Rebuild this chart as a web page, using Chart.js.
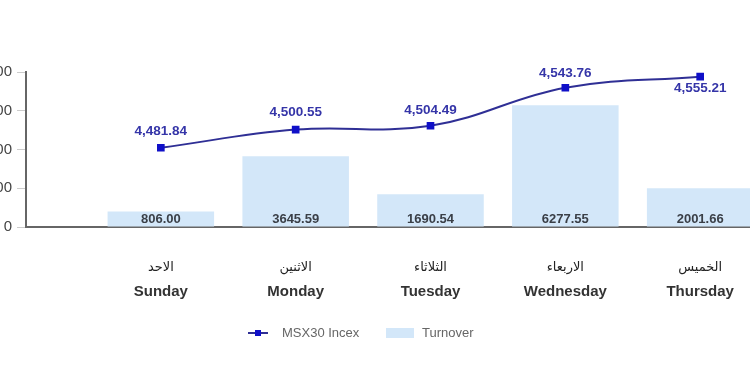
<!DOCTYPE html>
<html>
<head>
<meta charset="utf-8">
<script src="https://cdn.jsdelivr.net/npm/chart.js@4/dist/chart.umd.min.js"></script>
<style>
  html, body { margin: 0; padding: 0; background: #fff; overflow: hidden; width: 750px; height: 375px; }
  #wrap { position: absolute; left: -30px; top: 0; width: 921px; height: 375px; }
</style>
</head>
<body>
<div id="wrap"><canvas id="chart" width="921" height="375"></canvas></div>
<script>
// data
const days = ['Sunday', 'Monday', 'Tuesday', 'Wednesday', 'Thursday'];
const daysAr = ['الاحد', 'الاثنين', 'الثلاثاء', 'الاربعاء', 'الخميس'];
const turnover = [806.00, 3645.59, 1690.54, 6277.55, 2001.66];
const msx30 = [4481.84, 4500.55, 4504.49, 4543.76, 4555.21];
const leftTicks = [0, 2000, 4000, 6000, 8000];

const SHIFT = 30; // canvas sits 30px left of the window, so the y labels get cut
const lineLabelDy = [-16, -17, -15, -14, 12]; // where each index label sits vs its point

// one empty slot either side, so Sunday sits one step right of the axis
const labels = [''].concat(days, ['']);
const pad = arr => [null].concat(arr, [null]);

const labelsPlugin = {
  id: 'labels',
  afterDatasetsDraw(chart) {
    const ctx = chart.ctx;
    ctx.save();
    // turnover values inside the bars
    const bars = chart.getDatasetMeta(1);
    ctx.font = 'bold 13px "Liberation Sans", Arial, sans-serif';
    ctx.fillStyle = '#3a3f47';
    ctx.textAlign = 'center';
    ctx.textBaseline = 'middle';
    bars.data.forEach((b, i) => {
      const v = chart.data.datasets[1].data[i];
      if (v == null) return;
      ctx.fillText(v.toFixed(2), b.x, chart.chartArea.bottom - 8);
    });
    // index values by the points
    const pts = chart.getDatasetMeta(0);
    ctx.font = 'bold 13.5px "Liberation Sans", Arial, sans-serif';
    ctx.fillStyle = '#3535a8';
    pts.data.forEach((p, i) => {
      const v = chart.data.datasets[0].data[i];
      if (v == null) return;
      const txt = v.toLocaleString('en-US', { minimumFractionDigits: 2 });
      ctx.fillText(txt, p.x, p.y + lineLabelDy[i - 1]);
    });
    ctx.restore();
  },
  afterDraw(chart) {
    const ctx = chart.ctx;
    const x = chart.scales.x;
    ctx.save();
    // arabic day names above the english ones
    ctx.font = '13px "DejaVu Sans", sans-serif';
    ctx.fillStyle = '#222';
    ctx.textAlign = 'center';
    ctx.textBaseline = 'middle';
    daysAr.forEach((d, i) => {
      ctx.fillText(d, x.getPixelForValue(i + 1), 268);
    });
    // legend
    const ly = 333;
    ctx.strokeStyle = '#2f2f95';
    ctx.lineWidth = 2;
    ctx.beginPath();
    ctx.moveTo(248 + SHIFT, ly);
    ctx.lineTo(268 + SHIFT, ly);
    ctx.stroke();
    ctx.fillStyle = '#1010c8';
    ctx.fillRect(258 + SHIFT - 3, ly - 3, 6, 6);
    ctx.fillStyle = '#d3e7f9';
    ctx.fillRect(386 + SHIFT, ly - 5, 28, 10);
    ctx.font = '13px "Liberation Sans", Arial, sans-serif';
    ctx.fillStyle = '#666';
    ctx.textAlign = 'left';
    ctx.fillText('MSX30 Incex', 282 + SHIFT, ly);
    ctx.fillText('Turnover', 422 + SHIFT, ly);
    ctx.restore();
  }
};

new Chart(document.getElementById('chart'), {
  data: {
    labels: labels,
    datasets: [
      {
        type: 'line',
        label: 'MSX30 Incex',
        data: pad(msx30),
        yAxisID: 'y1',
        borderColor: '#2f2f95',
        borderWidth: 2,
        tension: 0.4,
        pointStyle: 'rect',
        pointRadius: 4,
        pointBackgroundColor: '#1010c8',
        pointBorderColor: '#1010c8',
        spanGaps: false
      },
      {
        type: 'bar',
        label: 'Turnover',
        data: pad(turnover),
        yAxisID: 'y',
        backgroundColor: '#d3e7f9',
        categoryPercentage: 1,
        barPercentage: 0.79
      }
    ]
  },
  options: {
    responsive: false,
    animation: false,
    devicePixelRatio: 1,
    layout: { padding: { top: 72, right: 0, left: 0, bottom: 0 } },
    plugins: { legend: { display: false }, tooltip: { enabled: false } },
    scales: {
      x: {
        offset: false,
        grid: { display: true, drawOnChartArea: false, drawTicks: false },
        border: { color: '#666', width: 2 },
        ticks: {
          padding: 56,
          color: '#333',
          font: { family: '"Liberation Sans", Arial, sans-serif', size: 15, weight: 'bold' },
          autoSkip: false,
          maxRotation: 0
        },
        afterFit(s) { s.height = 148; }
      },
      y: {
        position: 'left',
        min: 0,
        max: 8000,
        afterBuildTicks(s) { s.ticks = leftTicks.map(v => ({ value: v })); },
        grid: { drawOnChartArea: false, tickLength: 9, tickColor: '#ccc' },
        border: { color: '#666', width: 2 },
        ticks: {
          padding: 5,
          color: '#444',
          font: { family: '"Liberation Sans", Arial, sans-serif', size: 15 }
        },
        afterFit(s) { s.width = 55; }
      },
      y1: {
        display: false,
        position: 'right',
        min: 4400,
        max: 4560
      }
    }
  },
  plugins: [labelsPlugin]
});
</script>
</body>
</html>
